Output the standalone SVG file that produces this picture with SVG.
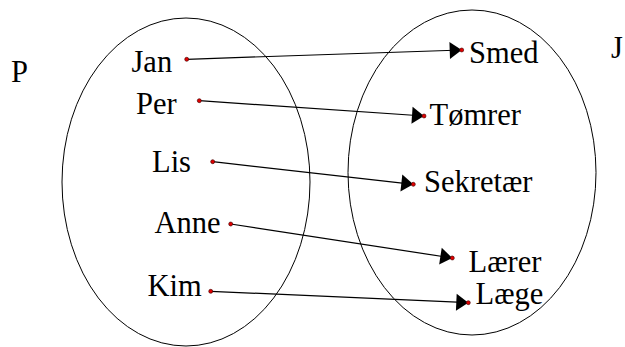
<svg xmlns="http://www.w3.org/2000/svg" width="625" height="347" viewBox="0 0 625 347">
<style>
  text { font-family: "Liberation Serif", "DejaVu Serif", "Times New Roman", serif; font-size: 30.5px; fill: #000; }
  .set { fill: none; stroke: #000; stroke-width: 1; }
  .edge { fill: none; stroke: #000; stroke-width: 1.2; marker-start: url(#dot); marker-end: url(#arrow); }
</style>
<defs>
  <marker id="dot" markerUnits="userSpaceOnUse" markerWidth="8" markerHeight="8" refX="4" refY="4" orient="auto" overflow="visible">
    <circle cx="4" cy="4" r="2" fill="#e00000" stroke="#400000" stroke-width="0.6"/>
  </marker>
  <marker id="arrow" markerUnits="userSpaceOnUse" markerWidth="16" markerHeight="18" refX="12" refY="8.5" orient="auto" overflow="visible">
    <path d="M0,0 L12,8.5 L0,17 z" fill="#000"/>
    <circle cx="12" cy="8.5" r="2" fill="#e00000" stroke="#400000" stroke-width="0.6"/>
  </marker>
</defs>

<g id="setP">
  <ellipse class="set" cx="186" cy="182" rx="124" ry="164"/>
  <text x="11" y="82">P</text>
</g>
<g id="setJ">
  <ellipse class="set" cx="472" cy="172.5" rx="124" ry="162.5"/>
  <text x="611" y="58">J</text>
</g>

<g id="connectors">
  <line class="edge" x1="186.7" y1="59.3" x2="461.7" y2="50"/>
  <line class="edge" x1="199.3" y1="100.7" x2="424" y2="116"/>
  <line class="edge" x1="212.7" y1="161.7" x2="413.3" y2="184.3"/>
  <line class="edge" x1="230.7" y1="224" x2="452.3" y2="258"/>
  <line class="edge" x1="210.7" y1="291.3" x2="468.3" y2="302.7"/>
</g>

<g id="Jan"><text x="131.5" y="72">Jan</text></g>
<g id="Per"><text x="136" y="114">Per</text></g>
<g id="Lis"><text x="152" y="172">Lis</text></g>
<g id="Anne"><text x="154.5" y="233">Anne</text></g>
<g id="Kim"><text x="147.5" y="296">Kim</text></g>

<g id="Smed"><text x="469" y="63">Smed</text></g>
<g id="Tomrer"><text x="429.5" y="125">Tømrer</text></g>
<g id="Sekretaer"><text x="424" y="192">Sekretær</text></g>
<g id="Laerer"><text x="468.5" y="271.5">Lærer</text></g>
<g id="Laege"><text x="475.5" y="303.5">Læge</text></g>
</svg>
